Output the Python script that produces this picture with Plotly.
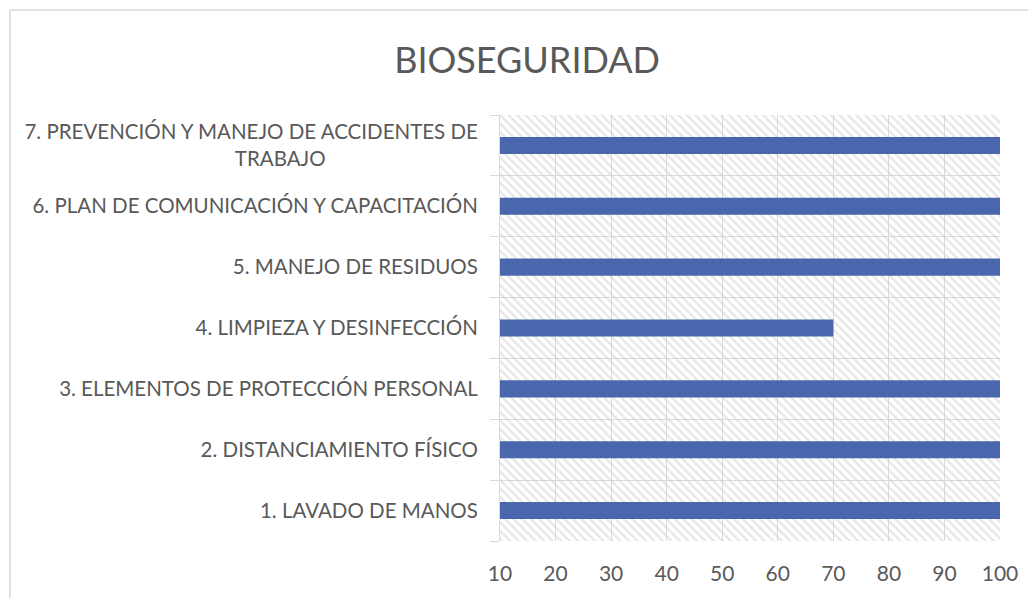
import plotly.graph_objects as go

categories = [
    "1. LAVADO DE MANOS",
    "2. DISTANCIAMIENTO FÍSICO",
    "3. ELEMENTOS DE PROTECCIÓN PERSONAL",
    "4. LIMPIEZA Y DESINFECCIÓN",
    "5. MANEJO DE RESIDUOS",
    "6. PLAN DE COMUNICACIÓN Y CAPACITACIÓN",
    "7. PREVENCIÓN Y MANEJO DE ACCIDENTES DE<br>TRABAJO" + "\u00a0" * 29,
]
values = [100, 100, 100, 70, 100, 100, 100]
axis_min = 10
axis_max = 100
tick_vals = [10, 20, 30, 40, 50, 60, 70, 80, 90, 100]

TEXT = "#595959"
FONT = "Lato"

fig = go.Figure()

# hatched plot-area background, one band per category
fig.add_trace(go.Bar(
    y=categories,
    x=[axis_max - axis_min] * len(categories),
    base=axis_min,
    orientation="h",
    width=1,
    marker=dict(
        color="rgba(0,0,0,0)",
        line=dict(width=0),
        pattern=dict(shape="\\", fgcolor="#cfcfcf", bgcolor="rgba(0,0,0,0)", size=6, solidity=0.4),
    ),
    hoverinfo="skip",
    showlegend=False,
))

fig.add_trace(go.Bar(
    y=categories,
    x=[v - axis_min for v in values],
    base=axis_min,
    orientation="h",
    width=0.28,
    marker=dict(color="#4a66ac", line=dict(width=0)),
    showlegend=False,
))

fig.update_layout(
    width=1036,
    height=598,
    margin=dict(l=492, r=44, t=107, b=65),
    paper_bgcolor="white",
    plot_bgcolor="white",
    barmode="overlay",
    title=dict(
        text="BIOSEGURIDAD",
        x=0.501, xanchor="center",
        y=0.913, yanchor="middle",
        font=dict(family=FONT, size=36, color=TEXT),
    ),
    font=dict(family=FONT, size=20.5, color=TEXT),
)

fig.update_xaxes(
    range=[axis_min, axis_max],
    tickvals=tick_vals,
    showgrid=True, gridcolor="#d9d9d9", gridwidth=1,
    zeroline=False,
    showline=False,
    ticks="",
    ticklabelstandoff=18,
    tickfont=dict(family=FONT, size=21, color=TEXT),
)

fig.update_yaxes(
    type="category",
    categoryorder="array",
    categoryarray=categories,
    tickson="boundaries",
    ticks="outside", ticklen=9, tickcolor="#d9d9d9",
    showgrid=True, gridcolor="#d9d9d9", gridwidth=1,
    showline=True, linecolor="#d9d9d9",
    ticklabelstandoff=17,
    tickfont=dict(family=FONT, size=20.5, color=TEXT),
)

# outer chart frame (extends past right and bottom edges)
fig.add_shape(
    type="rect", xref="paper", yref="paper",
    x0=(10 - 500) / 500, x1=(1060 - 500) / 500,
    y0=(541 - 620) / 426, y1=(541 - 10) / 426,
    line=dict(color="#d9d9d9", width=1.5),
    fillcolor="rgba(0,0,0,0)",
    layer="below",
)

fig.write_html("out.html")
